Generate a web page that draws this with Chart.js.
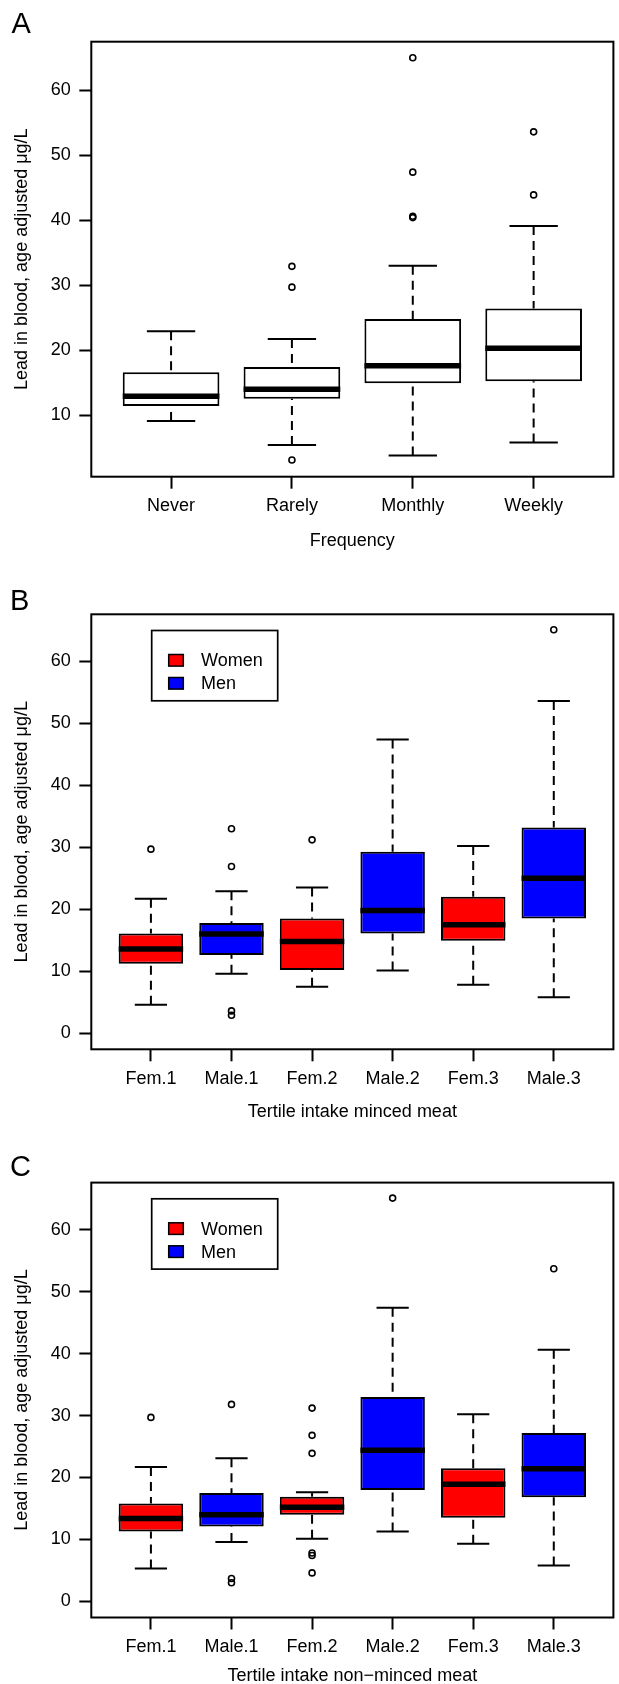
<!DOCTYPE html>
<html>
<head>
<meta charset="utf-8">
<title>Lead in blood</title>
<script src="https://cdn.jsdelivr.net/npm/chart.js@4.4.1/dist/chart.umd.min.js"></script>
<style>
  html, body { margin: 0; padding: 0; background: #fff; overflow: hidden; }
  body { width: 619px; height: 1684px; position: relative; }
  canvas { position: absolute; left: 0; }
</style>
</head>
<body>
<canvas id="chartA" width="619" height="560" style="top:0px"></canvas>
<canvas id="chartB" width="619" height="560" style="top:572px"></canvas>
<canvas id="chartC" width="619" height="560" style="top:1141px"></canvas>
<script>
// panel A - frequency
const freqLabels = ['Never', 'Rarely', 'Monthly', 'Weekly'];
const freqLow = [9.1, 5.4, 3.8, 5.8];
const freqQ1 = [11.4, 12.5, 14.9, 15.2];
const freqMedian = [12.9, 14.0, 17.6, 20.3];
const freqQ3 = [16.6, 17.4, 24.8, 26.4];
const freqHigh = [22.9, 21.7, 33.0, 39.1];
const freqOutX = [2, 2, 2, 3, 3, 3, 3, 4, 4];
const freqOutY = [32.9, 29.7, 3.1, 65.0, 47.4, 40.6, 40.4, 53.6, 43.9];
const freqTicks = [10, 20, 30, 40, 50, 60];

// panels B and C - women / men per tertile
const tertileLabels = ['Fem.1', 'Male.1', 'Fem.2', 'Male.2', 'Fem.3', 'Male.3'];
const sexColors = ['#ff0000', '#0000ff', '#ff0000', '#0000ff', '#ff0000', '#0000ff'];
const sexTicks = [0, 10, 20, 30, 40, 50, 60];
const legendNames = ['Women', 'Men'];
const legendColors = ['#ff0000', '#0000ff'];

// B - minced meat
const mincedLow = [4.6, 9.6, 7.5, 10.1, 7.8, 5.8];
const mincedQ1 = [11.2, 12.6, 10.2, 16.1, 14.9, 18.5];
const mincedMedian = [13.6, 16.0, 14.8, 19.8, 17.5, 25.0];
const mincedQ3 = [16.1, 17.8, 18.5, 29.3, 22.0, 33.2];
const mincedHigh = [21.7, 22.9, 23.5, 47.4, 30.2, 53.6];
const mincedOutX = [1, 2, 2, 2, 2, 3, 6];
const mincedOutY = [29.7, 33.0, 26.9, 3.6, 2.9, 31.2, 65.1];

// C - non-minced meat
const nonMincedLow = [5.3, 9.6, 10.1, 11.3, 9.3, 5.8];
const nonMincedQ1 = [11.3, 12.1, 14.0, 18.0, 13.5, 16.8];
const nonMincedMedian = [13.4, 14.0, 15.2, 24.4, 18.9, 21.4];
const nonMincedQ3 = [15.8, 17.5, 16.9, 33.0, 21.5, 27.2];
const nonMincedHigh = [21.7, 23.1, 17.6, 47.4, 30.2, 40.6];
const nonMincedOutX = [1, 2, 2, 2, 3, 3, 3, 3, 3, 3, 4, 6];
const nonMincedOutY = [29.7, 31.8, 3.7, 3.0, 31.2, 26.8, 23.9, 7.8, 7.4, 4.6, 65.1, 53.7];

const yTitle = 'Lead in blood, age adjusted \u03bcg/L';
const fontFamily = '"Liberation Sans", Arial, Helvetica, sans-serif';
Chart.defaults.font.family = fontFamily;

// whiskers, staples, medians, frame, legend and panel letter
function boxPlugin(p) {
    return {
        id: 'boxExtras',
        afterDatasetsDraw(chart) {
            const {ctx, chartArea: area, scales: {x, y}} = chart;
            const unit = x.getPixelForValue(2) - x.getPixelForValue(1);
            ctx.save();
            ctx.strokeStyle = '#000';
            ctx.lineCap = 'butt';

            p.low.forEach((lo, i) => {
                const px = x.getPixelForValue(i + 1);
                ctx.lineWidth = 2;
                ctx.setLineDash([9, 6]);
                ctx.beginPath();
                ctx.moveTo(px, y.getPixelForValue(p.high[i]));
                ctx.lineTo(px, y.getPixelForValue(p.q3[i]));
                ctx.stroke();
                ctx.beginPath();
                ctx.moveTo(px, y.getPixelForValue(lo));
                ctx.lineTo(px, y.getPixelForValue(p.q1[i]));
                ctx.stroke();

                ctx.setLineDash([]);
                ctx.beginPath();
                [lo, p.high[i]].forEach(v => {
                    ctx.moveTo(px - unit * 0.2, y.getPixelForValue(v));
                    ctx.lineTo(px + unit * 0.2, y.getPixelForValue(v));
                });
                ctx.stroke();

                ctx.lineWidth = 5.5;
                ctx.beginPath();
                ctx.moveTo(px - unit * 0.4, y.getPixelForValue(p.median[i]));
                ctx.lineTo(px + unit * 0.4, y.getPixelForValue(p.median[i]));
                ctx.stroke();
            });

            ctx.setLineDash([]);
            ctx.lineWidth = 2;
            ctx.strokeRect(area.left, area.top, area.width, area.height);

            if (p.legend) {
                ctx.lineWidth = 1.7;
                ctx.strokeRect(area.left + 60.4, area.top + 16.2, 126, 70.3);
                ctx.font = '18px ' + fontFamily;
                ctx.textBaseline = 'middle';
                legendNames.forEach((name, k) => {
                    const cy = area.top + 46 + k * 23;
                    ctx.fillStyle = legendColors[k];
                    ctx.fillRect(area.left + 77.4, cy - 5.8, 14.6, 11.6);
                    ctx.lineWidth = 1.5;
                    ctx.strokeRect(area.left + 77.4, cy - 5.8, 14.6, 11.6);
                    ctx.fillStyle = '#000';
                    ctx.fillText(name, area.left + 109.7, cy + 1);
                });
            }

            ctx.fillStyle = '#000';
            ctx.font = '29px ' + fontFamily;
            ctx.textBaseline = 'alphabetic';
            ctx.fillText(p.letter, p.letterX, p.letterY - p.canvasTop);
            ctx.restore();
        }
    };
}

function makePanel(id, p) {
    const top = p.canvasTop;
    const xAxisHeight = top + 560 - p.areaBottom;
    return new Chart(document.getElementById(id), {
        type: 'scatter',
        data: {
            datasets: [
                {
                    type: 'bar',
                    data: p.labels.map((l, i) => ({x: i + 1, y: [p.q1[i], p.q3[i]]})),
                    backgroundColor: p.colors,
                    borderColor: '#000',
                    borderWidth: 2,
                    borderSkipped: false,
                    barPercentage: 0.8,
                    categoryPercentage: 1
                },
                {
                    type: 'scatter',
                    data: p.outX.map((v, i) => ({x: v, y: p.outY[i]})),
                    pointRadius: 3,
                    pointBorderWidth: 1.6,
                    pointBorderColor: '#000',
                    pointBackgroundColor: 'rgba(0,0,0,0)'
                }
            ]
        },
        options: {
            responsive: false,
            animation: false,
            devicePixelRatio: 1,
            events: [],
            layout: {
                padding: {top: p.areaTop - top, right: 0.7, bottom: 0, left: 0}
            },
            plugins: {
                legend: {display: false},
                tooltip: {enabled: false}
            },
            scales: {
                x: {
                    type: 'linear',
                    min: p.xMin,
                    max: p.xMax,
                    offset: false,
                    afterFit: s => { s.height = xAxisHeight; },
                    afterBuildTicks: s => { s.ticks = p.labels.map((l, i) => ({value: i + 1})); },
                    ticks: {
                        autoSkip: false,
                        maxRotation: 0,
                        padding: 7,
                        color: '#000',
                        font: {size: 18},
                        callback: v => p.labels[v - 1]
                    },
                    grid: {drawOnChartArea: false, offset: false, tickLength: 12, tickWidth: 2, tickColor: '#000'},
                    border: {display: false},
                    title: {
                        display: true,
                        text: p.xTitle,
                        color: '#000',
                        font: {size: 18},
                        padding: {top: 0, bottom: top + 560 - p.titleY - 10.8}
                    }
                },
                y: {
                    type: 'linear',
                    min: p.yMin,
                    max: p.yMax,
                    afterFit: s => { s.width = 91.3; },
                    afterBuildTicks: s => { s.ticks = p.yTicks.map(v => ({value: v})); },
                    ticks: {
                        padding: 8.6,
                        color: '#000',
                        font: {size: 18},
                        callback: v => String(v)
                    },
                    grid: {drawOnChartArea: false, tickLength: 12, tickWidth: 2, tickColor: '#000'},
                    border: {display: false},
                    title: {
                        display: true,
                        text: yTitle,
                        color: '#000',
                        font: {size: 18},
                        padding: {top: 11.2, bottom: 0}
                    }
                }
            }
        },
        plugins: [boxPlugin(p)]
    });
}

makePanel('chartA', {
    labels: freqLabels, colors: '#ffffff',
    low: freqLow, q1: freqQ1, median: freqMedian, q3: freqQ3, high: freqHigh,
    outX: freqOutX, outY: freqOutY, yTicks: freqTicks,
    xMin: 0.34, xMax: 4.66, yMin: 0.52, yMax: 67.48,
    xTitle: 'Frequency', letter: 'A', legend: false,
    canvasTop: 0, areaTop: 41.7, areaBottom: 476.7, titleY: 541, letterX: 11.5, letterY: 33.3
});

makePanel('chartB', {
    labels: tertileLabels, colors: sexColors,
    low: mincedLow, q1: mincedQ1, median: mincedMedian, q3: mincedQ3, high: mincedHigh,
    outX: mincedOutX, outY: mincedOutY, yTicks: sexTicks,
    xMin: 0.26, xMax: 6.74, yMin: -2.6, yMax: 67.6,
    xTitle: 'Tertile intake minced meat', letter: 'B', legend: true,
    canvasTop: 572, areaTop: 614.3, areaBottom: 1049.3, titleY: 1111.7, letterX: 10, letterY: 610
});

makePanel('chartC', {
    labels: tertileLabels, colors: sexColors,
    low: nonMincedLow, q1: nonMincedQ1, median: nonMincedMedian, q3: nonMincedQ3, high: nonMincedHigh,
    outX: nonMincedOutX, outY: nonMincedOutY, yTicks: sexTicks,
    xMin: 0.26, xMax: 6.74, yMin: -2.6, yMax: 67.6,
    xTitle: 'Tertile intake non\u2212minced meat', letter: 'C', legend: true,
    canvasTop: 1141, areaTop: 1182.6, areaBottom: 1617.5, titleY: 1676, letterX: 10, letterY: 1175.5
});
</script>
</body>
</html>
